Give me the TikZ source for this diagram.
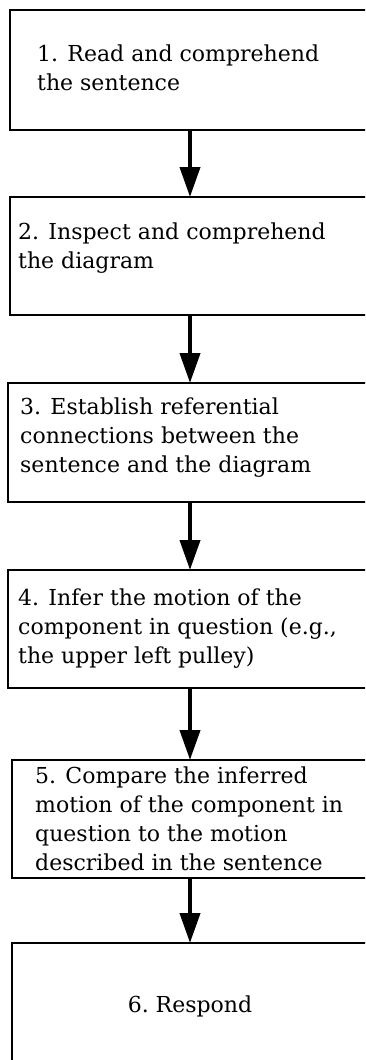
\documentclass[tikz,border=0pt]{standalone}
\usepackage{fontspec}
\setmainfont{DejaVu Serif}
\usetikzlibrary{arrows.meta}
\begin{document}
\begin{tikzpicture}[x=1pt,y=-1pt,
  stepbox/.style={draw, line width=1.8pt, minimum width=440pt, anchor=north west, inner sep=0pt, outer sep=0pt},
  steptext/.style={anchor=base west, inner sep=0pt, align=left, font=\fontsize{22}{29}\selectfont},
  flow/.style={line width=4pt, -{Triangle[width=20pt,length=30pt]}}]
\useasboundingbox (0,0) rectangle (365,1060);
\clip (0,0) rectangle (365,1060);
\coordinate (ax) at (190,0);
\node[stepbox, minimum height=120pt] (b1) at (10,10) {};
\node[stepbox, minimum height=118pt] (b2) at (10,197) {};
\node[stepbox, minimum height=119pt] (b3) at (8,383) {};
\node[stepbox, minimum height=118pt] (b4) at (8,570) {};
\node[stepbox, minimum height=118pt] (b5) at (12,760) {};
\node[stepbox, minimum height=200pt] (b6) at (12,943) {};
\node[steptext] (t1) at (37,90) {1. Read and comprehend\\the sentence};
\node[steptext] (t2) at (18,268) {2. Inspect and comprehend\\the diagram};
\node[steptext] (t3) at (20,472) {3. Establish referential\\connections between the\\sentence and the diagram};
\node[steptext] (t4) at (18,663) {4. Infer the motion of the\\component in question (e.g.,\\the upper left pulley)};
\node[steptext] (t5) at (35,870) {5. Compare the inferred\\motion of the component in\\question to the motion\\described in the sentence};
\node[steptext, anchor=base] (t6) at (190,1012) {6.\ Respond};
\draw[flow] (b1.south -| ax) -- (b2.north -| ax);
\draw[flow] (b2.south -| ax) -- (b3.north -| ax);
\draw[flow] (b3.south -| ax) -- (b4.north -| ax);
\draw[flow] (b4.south -| ax) -- (b5.north -| ax);
\draw[flow] (b5.south -| ax) -- (b6.north -| ax);
\end{tikzpicture}
\end{document}
